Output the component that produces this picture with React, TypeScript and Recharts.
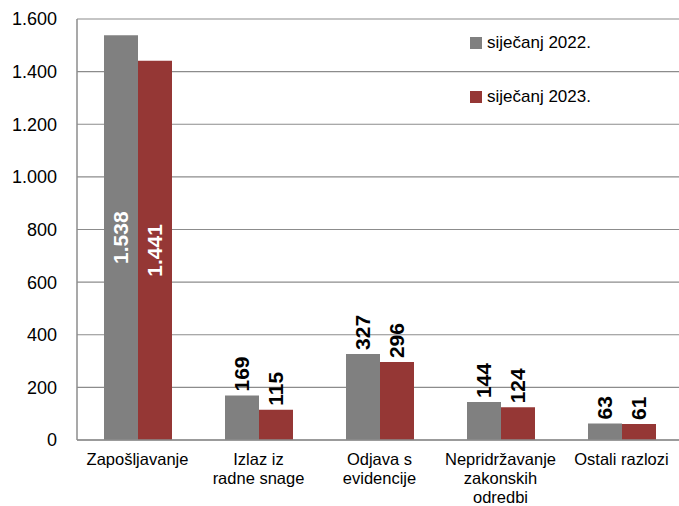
import React from 'react';
import { BarChart, Bar, XAxis, YAxis, CartesianGrid, Legend, LabelList } from 'recharts';

const categories = ['Zapošljavanje', 'Izlaz iz radne snage', 'Odjava s evidencije', 'Nepridržavanje zakonskih odredbi', 'Ostali razlozi'];
const categoryLines = [['Zapošljavanje'], ['Izlaz iz', 'radne snage'], ['Odjava s', 'evidencije'], ['Nepridržavanje', 'zakonskih', 'odredbi'], ['Ostali razlozi']];
const jan2022 = [1538, 169, 327, 144, 63];
const jan2023 = [1441, 115, 296, 124, 61];
const yTicks = [0, 200, 400, 600, 800, 1000, 1200, 1400, 1600];
const seriesNames = ['siječanj 2022.', 'siječanj 2023.'];

const GRAY = '#808080';
const RED = '#953735';
const FONT = '"Liberation Sans", Arial, sans-serif';

const data = categories.map((c, i) => ({ name: c, idx: i, a: jan2022[i], b: jan2023[i] }));

const fmt = (v: number) => v.toLocaleString('de-DE');

const XTick = (props: any) => {
  const { x, y, payload } = props;
  const lines = categoryLines[payload.index] || [payload.value];
  return (
    <text x={x} y={y} textAnchor="middle" fontFamily={FONT} fontSize={16.5} fill="#000">
      {lines.map((l: string, i: number) => (
        <tspan key={i} x={x} dy={i === 0 ? 17 : 19}>{l}</tspan>
      ))}
    </text>
  );
};

const ValueLabel = (props: any) => {
  const { x, y, width, height, value, index } = props;
  const cx = x + width / 2;
  if (index === 0) {
    const cy = y + height / 2;
    return (
      <text x={cx} y={cy} transform={`rotate(-90 ${cx} ${cy})`} textAnchor="middle" dominantBaseline="central"
        fontFamily={FONT} fontSize={21} fontWeight="bold" fill="#fff">{fmt(value)}</text>
    );
  }
  const ty = y - 4;
  return (
    <text x={cx} y={ty} transform={`rotate(-90 ${cx} ${ty})`} textAnchor="start" dominantBaseline="central"
      fontFamily={FONT} fontSize={21} fontWeight="bold" fill="#000">{fmt(value)}</text>
  );
};

const renderLegend = () => (
  <div style={{ fontFamily: FONT, fontSize: 17, color: '#000' }}>
    {seriesNames.map((n, i) => (
      <div key={n} style={{ display: 'flex', alignItems: 'center', height: 20, marginBottom: i === 0 ? 34 : 0 }}>
        <span style={{ display: 'inline-block', width: 12, height: 12, background: i === 0 ? GRAY : RED, marginRight: 5 }} />
        <span>{n}</span>
      </div>
    ))}
  </div>
);

export default function App() {
  return (
    <div style={{ position: 'fixed', left: 0, top: 0, width: 679, height: 506, overflow: 'hidden', background: '#fff' }}>
      <BarChart width={690} height={506} data={data} margin={{ top: 19, right: 8, left: 0, bottom: 6 }} barGap={0} barSize={34}>
        <CartesianGrid vertical={false} stroke="#8c8c8c" strokeWidth={1.2} />
        <XAxis dataKey="name" interval={0} height={60} tickLine={false} axisLine={{ stroke: '#8c8c8c', strokeWidth: 1.5 }} tick={<XTick />} />
        <YAxis domain={[0, 1600]} ticks={yTicks} width={77} tickLine={false} tickSize={0} tickMargin={20}
          axisLine={{ stroke: '#8c8c8c', strokeWidth: 1.5 }} tickFormatter={fmt}
          tick={{ fontFamily: FONT, fontSize: 18, fill: '#000' }} />
        <Legend layout="vertical" align="center" verticalAlign="middle" content={renderLegend}
          wrapperStyle={{ position: 'absolute', left: 470, top: 33, width: 200 }} />
        <Bar dataKey="a" name={seriesNames[0]} fill={GRAY} isAnimationActive={false}>
          <LabelList dataKey="a" content={<ValueLabel />} />
        </Bar>
        <Bar dataKey="b" name={seriesNames[1]} fill={RED} isAnimationActive={false}>
          <LabelList dataKey="b" content={<ValueLabel />} />
        </Bar>
      </BarChart>
    </div>
  );
}
